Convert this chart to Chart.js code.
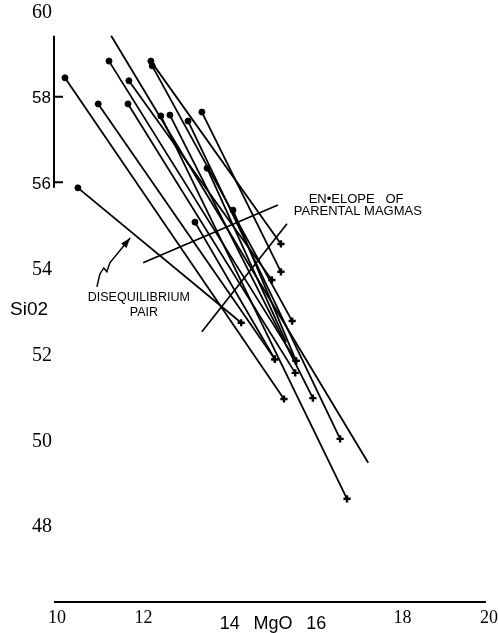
<!DOCTYPE html>
<html>
<head>
<meta charset="utf-8">
<script src="https://cdn.jsdelivr.net/npm/chart.js@4"></script>
<style>
  body { margin: 0; background: #fff; }
  #wrap { width: 498px; height: 633px; }
</style>
</head>
<body>
<div id="wrap"><canvas id="myChart"></canvas></div>
<script>
// each pair: quenched glass (dot) -> parental magma (cross)
var mgoStart  = [10.23, 10.53, 12.22, 12.25, 13.40, 11.30, 11.25, 11.71, 11.00, 11.69, 12.45, 12.66, 13.08, 13.52, 14.12, 13.24];
var sio2Start = [58.44, 55.87, 58.83, 58.72, 57.64, 59.42, 58.83, 58.37, 57.83, 57.83, 57.55, 57.57, 57.43, 56.33, 55.35, 55.07];
var mgoEnd    = [15.30, 14.31, 15.23, 15.49, 15.23, 17.25, 15.58, 15.02, 15.09, 15.56, 16.76, 15.97, 16.60, 15.35, 15.58, 15.09];
var sio2End   = [50.94, 52.72, 54.56, 52.76, 53.91, 49.45, 51.83, 53.72, 51.87, 51.55, 48.61, 50.96, 50.01, 52.27, 51.83, 51.87];
var hasDot    = [1, 1, 1, 1, 1, 0, 1, 1, 1, 1, 1, 1, 1, 1, 1, 1];
var hasCross  = [1, 1, 1, 1, 1, 0, 1, 1, 1, 1, 1, 1, 1, 0, 1, 1];

// envelope of parental magmas (two bounding strokes)
var envMgo = [[12.04, 15.16], [13.40, 15.37]];
var envSio = [[54.12, 55.47], [52.51, 55.03]];

// wavy arrow pointing at the disequilibrium pair
var arrowMgo = [10.97, 11.04, 11.13, 11.20, 11.27, 11.74];
var arrowSio = [53.56, 53.86, 54.00, 53.91, 54.12, 54.70];

var yTickValues = [60, 58, 56, 54, 52, 50, 48];
var yTickLabels = ['60', '58', '56', '54', '52', '50', '48'];
var yTickSans   = [0, 1, 1, 0, 0, 0, 0];
var yAxisSpan   = [59.42, 55.87];
var yTickMarks  = [58, 56];

var xTickValues = [10, 12, 14, 15, 16, 18, 20];
var xTickLabels = ['10', '12', '14', 'MgO', '16', '18', '20'];
var xTickSans   = [0, 0, 1, 1, 1, 0, 0];

var SERIF = '"Liberation Serif", "DejaVu Serif", serif';
var SANS = '"Liberation Sans", Arial, sans-serif';

var datasets = [];
for (var i = 0; i < mgoStart.length; i++) {
    datasets.push({
        data: [{x: mgoStart[i], y: sio2Start[i]}, {x: mgoEnd[i], y: sio2End[i]}],
        showLine: true,
        borderColor: '#000',
        borderWidth: 1.8,
        pointStyle: ['circle', 'cross'],
        pointRadius: [hasDot[i] ? 3 : 0, hasCross[i] ? 3.6 : 0],
        pointBorderWidth: [1, 2.4],
        pointBackgroundColor: '#000',
        pointBorderColor: '#000'
    });
}
for (var j = 0; j < envMgo.length; j++) {
    datasets.push({
        data: [{x: envMgo[j][0], y: envSio[j][0]}, {x: envMgo[j][1], y: envSio[j][1]}],
        showLine: true,
        borderColor: '#000',
        borderWidth: 1.7,
        pointRadius: 0
    });
}

var decorations = {
    id: 'decorations',
    afterDraw: function (chart) {
        var c = chart.ctx, xs = chart.scales.x, ys = chart.scales.y;
        var area = chart.chartArea;
        c.save();
        c.fillStyle = '#000';
        c.strokeStyle = '#000';

        // partial vertical axis with two tick marks
        var ax = xs.getPixelForValue(10) - 1;
        c.lineWidth = 2;
        c.beginPath();
        c.moveTo(ax, ys.getPixelForValue(yAxisSpan[0]));
        c.lineTo(ax, ys.getPixelForValue(yAxisSpan[1]));
        yTickMarks.forEach(function (v) {
            var py = ys.getPixelForValue(v);
            c.moveTo(ax, py);
            c.lineTo(ax + 9, py);
        });
        c.stroke();

        // horizontal axis
        c.beginPath();
        c.moveTo(area.left - 1, area.bottom);
        c.lineTo(area.right - 1, area.bottom);
        c.stroke();

        // y labels
        c.textAlign = 'right';
        c.textBaseline = 'middle';
        yTickValues.forEach(function (v, k) {
            c.font = yTickSans[k] ? '17px ' + SANS : '20px ' + SERIF;
            c.fillText(yTickLabels[k], ax - (yTickSans[k] ? 3 : 2), ys.getPixelForValue(v) + 2);
        });

        // x labels
        c.textAlign = 'center';
        xTickValues.forEach(function (v, k) {
            c.font = xTickSans[k] ? '18px ' + SANS : '18px ' + SERIF;
            c.fillText(xTickLabels[k], xs.getPixelForValue(v) + 2, area.bottom + (xTickSans[k] ? 22 : 16));
        });

        // axis name
        c.textAlign = 'left';
        c.font = '19px ' + SANS;
        c.fillText('Si02', 10, ys.getPixelForValue(53.02));

        // annotations
        c.textAlign = 'center';
        c.font = '12.5px ' + SANS;
        c.fillText('DISEQUILIBRIUM', xs.getPixelForValue(11.94), ys.getPixelForValue(53.30));
        c.fillText('PAIR', xs.getPixelForValue(12.06), ys.getPixelForValue(52.97));
        c.font = '13px ' + SANS;
        c.fillText('EN\u2022ELOPE   OF', xs.getPixelForValue(16.97), ys.getPixelForValue(55.59));
        c.fillText('PARENTAL MAGMAS', xs.getPixelForValue(17.01), ys.getPixelForValue(55.31));

        // wavy arrow
        c.lineWidth = 1.5;
        c.beginPath();
        arrowMgo.forEach(function (m, k) {
            var px = xs.getPixelForValue(m), py = ys.getPixelForValue(arrowSio[k]);
            if (k === 0) c.moveTo(px, py); else c.lineTo(px, py);
        });
        c.stroke();
        var n = arrowMgo.length;
        var tx = xs.getPixelForValue(arrowMgo[n - 1]), ty = ys.getPixelForValue(arrowSio[n - 1]);
        var bx = xs.getPixelForValue(arrowMgo[n - 2]), by = ys.getPixelForValue(arrowSio[n - 2]);
        var ang = Math.atan2(ty - by, tx - bx);
        c.beginPath();
        c.moveTo(tx, ty);
        c.lineTo(tx - 10 * Math.cos(ang) + 3.5 * Math.sin(ang), ty - 10 * Math.sin(ang) - 3.5 * Math.cos(ang));
        c.lineTo(tx - 10 * Math.cos(ang) - 3.5 * Math.sin(ang), ty - 10 * Math.sin(ang) + 3.5 * Math.cos(ang));
        c.closePath();
        c.fill();
        c.restore();
    }
};

var ctx = document.getElementById('myChart').getContext('2d');
var myChart = new Chart(ctx, {
    type: 'scatter',
    data: { datasets: datasets },
    options: {
        responsive: true,
        maintainAspectRatio: false,
        animation: false,
        layout: { padding: { left: 55, right: 11, top: 11, bottom: 31 } },
        plugins: { legend: { display: false }, tooltip: { enabled: false } },
        scales: {
            x: { type: 'linear', min: 10, max: 20, display: false },
            y: { type: 'linear', min: 46.2, max: 60, display: false }
        }
    },
    plugins: [decorations]
});
</script>
</body>
</html>
